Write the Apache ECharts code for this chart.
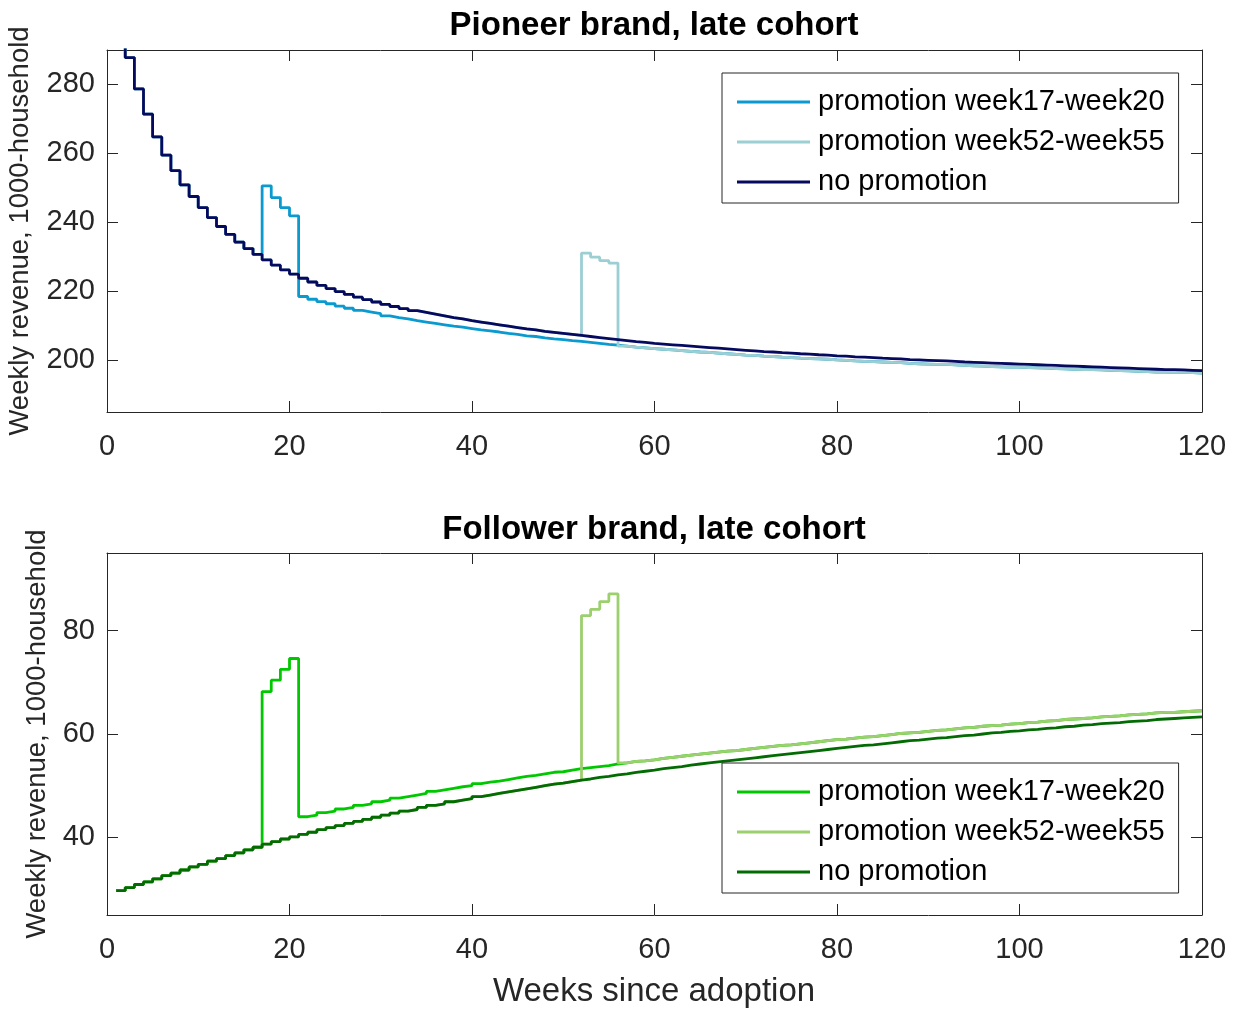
<!DOCTYPE html>
<html><head><meta charset="utf-8">
<script src="https://cdn.jsdelivr.net/npm/echarts@6/dist/echarts.min.js"></script>
<style>html,body{margin:0;padding:0;background:#fff}#c{width:1238px;height:1010px}</style>
</head><body><div id="c"></div>
<script>
// ---------- data ----------
const weeks = Array.from({length: 120}, (_, i) => i + 1);
const xTicks = [0, 20, 40, 60, 80, 100, 120];
const topYTicks = [200, 220, 240, 260, 280];
const botYTicks = [40, 60, 80];
const seriesNames = ['promotion week17-week20', 'promotion week52-week55', 'no promotion'];

// Pioneer brand, no promotion (weeks 1-120)
const topNoPromo = [
 299.0, 287.8, 278.7, 271.4, 264.8, 259.5, 255.0, 250.9, 247.5, 244.3,
 241.4, 238.8, 236.5, 234.3, 232.4, 230.7, 229.1, 227.6, 226.2, 225.0,
 223.8, 222.7, 221.7, 220.8, 219.9, 219.1, 218.3, 217.6, 216.9, 216.2,
 215.6, 215.0, 214.4, 213.9, 213.4, 212.9, 212.4, 212.0, 211.5, 211.1,
 210.7, 210.3, 209.9, 209.5, 209.1, 208.8, 208.4, 208.1, 207.8, 207.5,
 207.2, 206.9, 206.6, 206.3, 206.0, 205.7, 205.4, 205.2, 204.9, 204.7,
 204.5, 204.3, 204.1, 203.9, 203.7, 203.5, 203.3, 203.1, 202.9, 202.7,
 202.5, 202.4, 202.2, 202.1, 201.9, 201.8, 201.6, 201.5, 201.3, 201.2,
 201.0, 200.9, 200.8, 200.6, 200.5, 200.4, 200.2, 200.1, 200.0, 199.9,
 199.8, 199.7, 199.5, 199.4, 199.3, 199.2, 199.1, 199.0, 198.9, 198.8,
 198.7, 198.6, 198.5, 198.4, 198.3, 198.2, 198.1, 198.0, 197.9, 197.8,
 197.7, 197.6, 197.5, 197.4, 197.3, 197.3, 197.2, 197.1, 197.0, 196.9
];
// Pioneer brand, promotion week17-20: values for weeks 17-120
const topPromo17Tail = [
 250.6, 247.2, 244.3, 241.9,
 218.5, 217.7, 217.0, 216.4, 215.7, 215.1, 214.5, 214.0, 213.5, 212.9,
 212.4, 212.0, 211.5, 211.1, 210.7, 210.3, 209.9, 209.6, 209.2, 208.8,
 208.5, 208.2, 207.8, 207.5, 207.1, 206.9, 206.5, 206.2, 206.0, 205.7,
 205.5, 205.2, 204.9, 204.6, 204.4, 204.1, 203.8, 203.6, 203.4, 203.2,
 203.0, 202.8, 202.6, 202.4, 202.3, 202.1, 201.9, 201.7, 201.5, 201.4,
 201.2, 201.1, 200.9, 200.8, 200.6, 200.5, 200.4, 200.3, 200.1, 200.0,
 199.8, 199.7, 199.6, 199.5, 199.4, 199.3, 199.1, 199.0, 198.9, 198.8,
 198.8, 198.7, 198.5, 198.4, 198.3, 198.2, 198.1, 198.0, 198.0, 197.9,
 197.8, 197.7, 197.6, 197.5, 197.4, 197.3, 197.3, 197.2, 197.1, 197.0,
 196.9, 196.8, 196.7, 196.6, 196.6, 196.5, 196.5, 196.4, 196.3, 196.2
];
// Pioneer brand, promotion week52-55: spike weeks 52-55
const topPromo52Spike = [231.1, 229.9, 228.9, 228.2];

// Follower brand, no promotion (weeks 1-120)
const botNoPromo = [
 29.7, 30.3, 30.9, 31.4, 32.0, 32.6, 33.1, 33.7, 34.3, 34.8,
 35.4, 35.9, 36.5, 37.0, 37.6, 38.1, 38.7, 39.2, 39.7, 40.1,
 40.6, 41.0, 41.5, 41.9, 42.3, 42.7, 43.1, 43.5, 43.9, 44.3,
 44.7, 45.1, 45.4, 45.8, 46.2, 46.5, 46.9, 47.2, 47.5, 47.9,
 48.2, 48.5, 48.8, 49.1, 49.4, 49.7, 50.0, 50.3, 50.5, 50.8,
 51.1, 51.3, 51.6, 51.8, 52.1, 52.3, 52.6, 52.8, 53.0, 53.3,
 53.5, 53.7, 54.0, 54.2, 54.4, 54.6, 54.8, 55.0, 55.2, 55.4,
 55.6, 55.8, 56.0, 56.2, 56.4, 56.6, 56.8, 57.0, 57.2, 57.4,
 57.6, 57.8, 57.9, 58.1, 58.3, 58.5, 58.7, 58.8, 59.0, 59.2,
 59.3, 59.5, 59.7, 59.8, 60.0, 60.2, 60.3, 60.5, 60.6, 60.8,
 60.9, 61.1, 61.2, 61.4, 61.5, 61.7, 61.8, 62.0, 62.1, 62.2,
 62.4, 62.5, 62.6, 62.8, 62.9, 63.0, 63.1, 63.2, 63.3, 63.4
];
// Follower brand, promotion week17-20: values for weeks 17-120
const botPromo17Tail = [
 68.2, 70.4, 72.5, 74.6,
 44.0, 44.3, 44.8, 45.1, 45.5, 45.8, 46.2, 46.5, 46.9, 47.2,
 47.6, 47.9, 48.2, 48.5, 48.9, 49.2, 49.5, 49.8, 50.0, 50.4,
 50.7, 50.9, 51.2, 51.5, 51.8, 52.0, 52.3, 52.6, 52.7, 53.0,
 53.3, 53.5, 53.7, 53.9, 54.2, 54.4, 54.7, 54.8, 55.0, 55.3,
 55.5, 55.7, 55.9, 56.1, 56.3, 56.5, 56.7, 56.8, 57.0, 57.2,
 57.4, 57.6, 57.8, 57.9, 58.1, 58.3, 58.5, 58.7, 58.9, 59.0,
 59.2, 59.4, 59.5, 59.7, 59.9, 60.1, 60.2, 60.3, 60.5, 60.7,
 60.8, 61.0, 61.2, 61.3, 61.5, 61.6, 61.7, 61.9, 62.0, 62.2,
 62.3, 62.5, 62.6, 62.8, 62.9, 63.0, 63.1, 63.3, 63.4, 63.5,
 63.7, 63.8, 63.9, 64.1, 64.2, 64.2, 64.3, 64.4, 64.5, 64.6
];
// Follower brand, promotion week52-55: spike weeks 52-55
const botPromo52Spike = [82.9, 84.1, 85.6, 87.1];

// Full series (before a promotion the curve equals the no-promotion curve;
// after week 55 the two promotion curves coincide)
const topPromo17 = topNoPromo.slice(0, 16).concat(topPromo17Tail);
const topPromo52 = topNoPromo.slice(0, 51).concat(topPromo52Spike, topPromo17Tail.slice(39));
const botPromo17 = botNoPromo.slice(0, 16).concat(botPromo17Tail);
const botPromo52 = botNoPromo.slice(0, 51).concat(botPromo52Spike, botPromo17Tail.slice(39));

// ---------- chart ----------
const FONT = '"Liberation Sans", Arial, Helvetica, sans-serif';
const AX = '#262626';
const pair = arr => weeks.map((w, i) => [w, arr[i]]);

function xAx(grid, pos, show) {
  return {
    type: 'value', gridIndex: grid, position: pos, min: 0, max: 120, interval: 20,
    axisLine: {show: true, onZero: false, lineStyle: {color: AX, width: 1}},
    axisTick: {show: true, inside: true, length: 11, lineStyle: {color: AX, width: 1}},
    axisLabel: {show: show, fontSize: 29, color: AX, fontFamily: FONT, margin: 20},
    splitLine: {show: false}
  };
}
function yAx(grid, pos, show, min, max, ticks, name, gap) {
  return {
    type: 'value', gridIndex: grid, position: pos, min: min, max: max,
    axisLine: {show: true, onZero: false, lineStyle: {color: AX, width: 1}},
    axisTick: {show: true, inside: true, length: 11, customValues: ticks, lineStyle: {color: AX, width: 1}},
    axisLabel: {show: show, fontSize: 29, color: AX, fontFamily: FONT, margin: 12, customValues: ticks, padding: [5, 0, 0, 0]},
    splitLine: {show: false},
    name: show ? name : '', nameLocation: 'middle', nameGap: gap, nameRotate: 90,
    nameTextStyle: {fontSize: 27.5, color: AX, fontFamily: FONT}
  };
}
function ser(name, data, color, xi, yi) {
  return {
    type: 'line', name: name, data: pair(data), step: 'end', showSymbol: false, symbol: 'none',
    xAxisIndex: xi, yAxisIndex: yi, color: color, clip: true,
    lineStyle: {color: color, width: 2.8}, animation: false
  };
}
function leg(top, names) {
  return {
    orient: 'vertical', left: 722, top: top, data: names,
    formatter: n => n.trim(),
    icon: 'rect', itemWidth: 73, itemHeight: 3, itemGap: 10,
    padding: [14, 14, 6, 15],
    borderColor: AX, borderWidth: 1, backgroundColor: '#fff',
    textStyle: {fontSize: 29, color: '#000', fontFamily: FONT, lineHeight: 30, padding: [0, 0, 0, 3]},
    selectedMode: false
  };
}

const topColors = ['#0a9acf', '#9bcfd3', '#060a5e'];
const botColors = ['#00c800', '#9ccf6e', '#036b03'];
const botNames = seriesNames.map(n => n + ' ');

const chart = echarts.init(document.getElementById('c'), null, {renderer: 'canvas'});
chart.setOption({
  animation: false,
  backgroundColor: '#fff',
  grid: [
    {left: 107, right: 36, top: 50, height: 362, containLabel: false, outerBoundsMode: 'none'},
    {left: 107, right: 36, top: 553, height: 362, containLabel: false, outerBoundsMode: 'none'}
  ],
  xAxis: [xAx(0, 'bottom', true), xAx(0, 'top', false), xAx(1, 'bottom', true), xAx(1, 'top', false)],
  yAxis: [
    yAx(0, 'left', true, 185, 290, topYTicks, 'Weekly revenue, 1000-household', 73),
    yAx(0, 'right', false, 185, 290, topYTicks, '', 0),
    yAx(1, 'left', true, 25, 95, botYTicks, 'Weekly revenue, 1000-household', 52),
    yAx(1, 'right', false, 25, 95, botYTicks, '', 0)
  ],
  legend: [leg(73, seriesNames), leg(763, botNames)],
  series: [
    ser(seriesNames[0], topPromo17, topColors[0], 0, 0),
    ser(seriesNames[1], topPromo52, topColors[1], 0, 0),
    ser(seriesNames[2], topNoPromo, topColors[2], 0, 0),
    ser(botNames[0], botPromo17, botColors[0], 2, 2),
    ser(botNames[1], botPromo52, botColors[1], 2, 2),
    ser(botNames[2], botNoPromo, botColors[2], 2, 2)
  ],
  graphic: [
    {type: 'text', x: 654, y: 26, style: {text: 'Pioneer brand, late cohort', textAlign: 'center', textVerticalAlign: 'middle', fontSize: 33, fontWeight: 'bold', fontFamily: FONT, fill: '#000'}},
    {type: 'text', x: 654, y: 530, style: {text: 'Follower brand, late cohort', textAlign: 'center', textVerticalAlign: 'middle', fontSize: 33, fontWeight: 'bold', fontFamily: FONT, fill: '#000'}},
    {type: 'text', x: 654, y: 992, style: {text: 'Weeks since adoption', textAlign: 'center', textVerticalAlign: 'middle', fontSize: 33, fontFamily: FONT, fill: AX}}
  ]
});
</script>
</body></html>
